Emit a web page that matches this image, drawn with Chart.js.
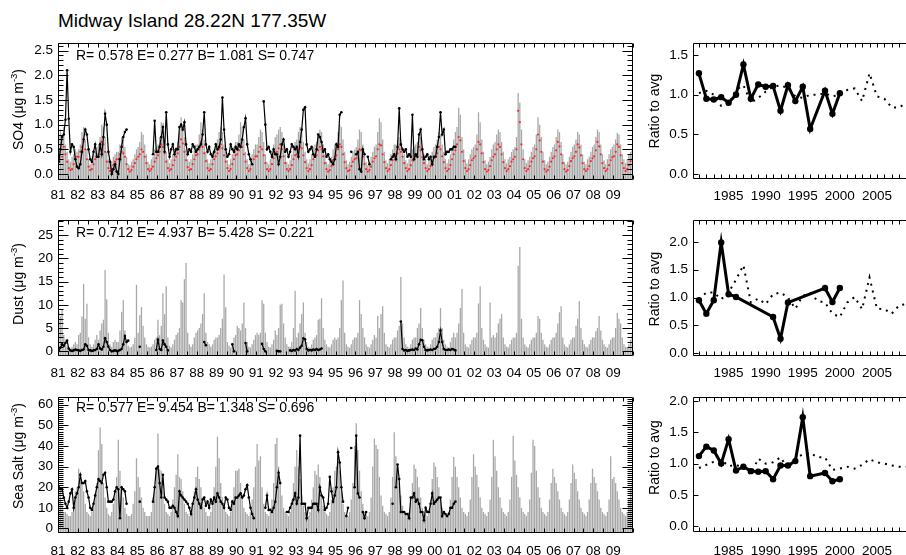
<!DOCTYPE html>
<html><head><meta charset="utf-8">
<script src="https://cdn.jsdelivr.net/npm/chart.js@4/dist/chart.umd.min.js"></script>
<style>
html,body{margin:0;padding:0;background:#fff;overflow:hidden;width:906px;height:555px;}
#title{position:absolute;left:58px;top:11px;font:19px "Liberation Sans",Arial,Helvetica,sans-serif;line-height:19px;color:#000;white-space:nowrap;}
canvas{position:absolute;}
</style></head><body>
<div id="title">Midway Island 28.22N 177.35W</div>
<canvas id="L1" width="640" height="174" style="left:0;top:30px"></canvas>
<canvas id="L2" width="640" height="173" style="left:0;top:207px"></canvas>
<canvas id="L3" width="640" height="173" style="left:0;top:384px"></canvas>
<canvas id="R1" width="285" height="173" style="left:633px;top:30px"></canvas>
<canvas id="R2" width="285" height="173" style="left:633px;top:207px"></canvas>
<canvas id="R3" width="285" height="172" style="left:633px;top:384px"></canvas>
<script>
const _ = null;
// ---------- axis tick values / labels ----------
const xTickYears  = [1981,1982,1983,1984,1985,1986,1987,1988,1989,1990,1991,1992,1993,1994,1995,1996,1997,1998,1999,2000,2001,2002,2003,2004,2005,2006,2007,2008,2009];
const xTickLabels = ['81','82','83','84','85','86','87','88','89','90','91','92','93','94','95','96','97','98','99','00','01','02','03','04','05','06','07','08','09'];
const so4YTicks  = [0,0.5,1.0,1.5,2.0,2.5];
const dustYTicks = [0,5,10,15,20,25];
const saltYTicks = [0,10,20,30,40,50,60];
const ratioYTicksA = [0,0.5,1.0,1.5];
const ratioYTicksB = [0,0.5,1.0,1.5,2.0];
const ratioXTicks  = [1985,1990,1995,2000,2005];
const ratioXLabels = ['1985','1990','1995','2000','2005'];
const ratioYears = [1981,1982,1983,1984,1985,1986,1987,1988,1989,1990,1991,1992,1993,1994,1995,1996,1997,1998,1999,2000,2001,2002,2003,2004,2005,2006,2007,2008,2009];

const so4Stats  = 'R= 0.578 E= 0.277 B= 1.081 S= 0.747';
const dustStats = 'R= 0.712 E= 4.937 B= 5.428 S= 0.221';
const saltStats = 'R= 0.577 E= 9.454 B= 1.348 S= 0.696';

// ---------- monthly model values (bars), Jan..Dec per year 1981-2009 ----------
const so4Model = [
[0.8,0.9,0.7,0.95,0.6,0.45,0.3,0.25,0.35,0.4,0.5,0.45],
[0.5,0.6,0.85,0.95,0.7,0.5,0.3,0.2,0.3,0.4,0.45,0.55],
[0.6,0.75,1.0,0.95,0.75,0.45,0.3,0.2,0.25,0.35,0.4,0.45],
[0.45,0.6,0.75,0.7,0.55,0.35,0.2,0.18,0.25,0.3,0.4,0.5],
[0.55,0.65,0.85,0.8,0.6,0.4,0.25,0.2,0.3,0.35,0.5,0.55],
[0.6,0.75,1.05,0.95,0.7,0.45,0.3,0.22,0.3,0.4,0.5,0.55],
[0.65,0.85,1.15,1.0,0.75,0.5,0.3,0.25,0.3,0.4,0.55,0.6],
[0.6,0.8,1.05,0.9,0.7,0.45,0.3,0.22,0.3,0.45,0.5,0.6],
[0.7,0.85,0.95,0.85,0.6,0.45,0.28,0.2,0.3,0.4,0.55,0.65],
[0.65,0.8,1.05,0.95,0.7,0.45,0.3,0.2,0.3,0.4,0.5,0.6],
[0.6,0.75,0.9,0.85,0.65,0.4,0.25,0.2,0.3,0.4,0.6,0.75],
[0.8,0.9,0.95,0.85,0.6,0.4,0.25,0.2,0.28,0.4,0.55,0.65],
[0.7,0.85,0.95,0.9,0.65,0.45,0.3,0.22,0.3,0.4,0.55,0.6],
[0.65,0.8,0.9,0.85,0.6,0.4,0.25,0.2,0.3,0.35,0.5,0.6],
[0.65,0.85,1.0,0.95,0.7,0.45,0.28,0.2,0.25,0.35,0.45,0.5],
[0.55,0.7,0.9,0.85,0.6,0.4,0.25,0.18,0.25,0.35,0.45,0.55],
[0.6,0.85,1.13,1.05,0.7,0.45,0.28,0.22,0.3,0.4,0.5,0.6],
[0.6,0.7,0.75,0.7,0.55,0.4,0.28,0.22,0.3,0.4,0.5,0.55],
[0.6,0.65,0.8,0.75,0.55,0.4,0.3,0.2,0.28,0.35,0.45,0.55],
[0.6,0.7,0.85,0.8,0.6,0.45,0.3,0.22,0.3,0.4,0.55,0.7],
[0.85,0.95,1.34,1.2,0.75,0.5,0.3,0.22,0.3,0.4,0.5,0.55],
[0.6,0.8,1.25,1.05,0.7,0.45,0.28,0.2,0.25,0.35,0.5,0.6],
[0.65,0.8,0.9,0.85,0.65,0.45,0.3,0.22,0.3,0.35,0.45,0.5],
[0.55,0.75,1.64,1.45,0.9,0.5,0.3,0.22,0.28,0.35,0.45,0.55],
[0.6,0.8,1.15,1.0,0.75,0.45,0.28,0.2,0.25,0.35,0.45,0.55],
[0.6,0.75,0.9,0.85,0.65,0.4,0.25,0.2,0.25,0.35,0.45,0.55],
[0.6,0.7,0.85,0.8,0.6,0.4,0.25,0.2,0.3,0.35,0.45,0.55],
[0.6,0.75,0.9,0.85,0.6,0.4,0.28,0.2,0.3,0.4,0.5,0.55],
[0.6,0.7,0.83,0.8,0.6,0.4,0.3,0.22,0.3,0.4,0.45,0.5]
].flat();

const so4Red = [
[0.45,0.5,0.35,0.55,0.4,0.25,0.12,0.08,0.1,0.2,0.3,0.35],
[0.35,0.45,0.55,0.65,0.5,0.3,0.15,0.08,0.1,0.2,0.3,0.35],
[0.4,0.5,0.65,0.6,0.45,0.25,0.12,0.06,0.1,0.18,0.25,0.3],
[0.3,0.4,0.45,0.42,0.35,0.2,0.1,0.05,0.08,0.15,0.22,0.3],
[0.35,0.4,0.5,0.45,0.35,0.22,0.1,0.06,0.1,0.15,0.25,0.32],
[0.38,0.45,0.6,0.55,0.42,0.25,0.12,0.07,0.1,0.18,0.28,0.35],
[0.42,0.55,0.7,0.62,0.45,0.28,0.14,0.08,0.1,0.2,0.3,0.38],
[0.4,0.5,0.65,0.55,0.42,0.26,0.12,0.07,0.1,0.2,0.3,0.36],
[0.42,0.5,0.6,0.52,0.38,0.25,0.12,0.06,0.1,0.2,0.3,0.38],
[0.4,0.48,0.55,0.55,0.4,0.25,0.12,0.06,0.1,0.2,0.3,0.36],
[0.36,0.45,0.55,0.5,0.38,0.22,0.1,0.06,0.1,0.2,0.32,0.42],
[0.45,0.52,0.6,0.5,0.36,0.22,0.1,0.06,0.1,0.18,0.3,0.38],
[0.4,0.5,0.55,0.52,0.38,0.24,0.12,0.06,0.1,0.18,0.3,0.35],
[0.38,0.48,0.55,0.5,0.36,0.22,0.1,0.05,0.08,0.16,0.28,0.35],
[0.38,0.5,0.6,0.55,0.4,0.24,0.12,0.06,0.08,0.16,0.25,0.3],
[0.32,0.42,0.5,0.48,0.35,0.2,0.1,0.05,0.08,0.15,0.25,0.32],
[0.36,0.5,0.6,0.58,0.4,0.24,0.12,0.06,0.1,0.18,0.28,0.35],
[0.36,0.42,0.5,0.45,0.35,0.22,0.12,0.06,0.1,0.18,0.28,0.32],
[0.36,0.4,0.55,0.48,0.34,0.22,0.12,0.06,0.1,0.16,0.25,0.32],
[0.36,0.42,0.55,0.5,0.36,0.24,0.12,0.06,0.1,0.18,0.3,0.4],
[0.48,0.6,0.75,0.68,0.45,0.26,0.12,0.06,0.1,0.18,0.28,0.32],
[0.36,0.5,0.65,0.6,0.42,0.24,0.1,0.05,0.08,0.16,0.28,0.35],
[0.4,0.5,0.6,0.55,0.4,0.24,0.12,0.06,0.1,0.16,0.25,0.3],
[0.35,0.5,1.28,1.05,0.6,0.3,0.12,0.06,0.1,0.16,0.25,0.32],
[0.36,0.5,0.8,0.68,0.45,0.25,0.1,0.05,0.08,0.15,0.25,0.32],
[0.36,0.48,0.65,0.56,0.4,0.22,0.1,0.05,0.08,0.16,0.26,0.32],
[0.36,0.45,0.6,0.54,0.38,0.22,0.1,0.06,0.1,0.16,0.26,0.32],
[0.36,0.48,0.65,0.56,0.4,0.22,0.12,0.06,0.1,0.18,0.28,0.34],
[0.36,0.45,0.6,0.55,0.38,0.22,0.12,0.06,0.1,0.18,0.26,0.3]
].flat();

const so4Obs = [
[0.25,0.5,0.75,0.8,1.1,2.1,1.12,0.45,0.6,0.55,0.3,0.15],
[0.12,0.2,0.45,0.7,0.9,0.8,0.5,0.3,0.25,0.45,0.6,0.35],
[0.35,0.6,0.4,0.75,1.22,1.0,0.45,0.25,0.0,0.1,0.2,0.05],
[0.0,0.3,0.55,0.75,0.85,0.9,_,_,_,_,_,_],
[_,_,_,_,_,_,_,_,_,0.4,1.08,0.45],
[0.45,0.55,0.75,0.95,0.45,1.25,0.6,0.35,0.5,0.6,0.4,0.5],
[0.5,0.95,1.0,0.9,1.05,0.6,0.4,0.5,0.45,0.6,0.55,0.45],
[0.5,0.55,0.6,0.8,1.25,0.6,0.45,0.55,0.4,0.35,0.45,0.6],
[0.5,0.55,0.7,1.55,0.9,0.5,0.35,0.4,0.6,0.5,0.45,0.55],
[0.5,0.6,0.55,0.7,0.95,1.13,0.6,0.4,0.3,0.2,_,_],
[_,_,_,_,1.47,1.0,0.5,0.55,0.45,0.35,0.5,0.4],
[0.4,0.2,0.35,0.6,0.7,0.45,0.5,0.35,0.45,0.6,0.55,0.5],
[0.55,0.35,0.65,0.9,1.3,1.35,0.6,0.45,0.5,0.55,0.4,0.35],
[0.5,0.8,0.75,0.65,0.45,0.5,0.35,0.4,0.3,0.25,0.2,0.3],
[0.6,0.55,1.2,1.25,_,_,_,_,_,0.45,_,_],
[0.4,0.45,0.1,0.05,0.5,0.4,_,0.35,0.2,_,_,_],
[_,_,_,_,_,_,_,_,_,0.3,0.35,0.4],
[0.3,0.55,1.33,0.6,0.5,0.45,0.5,0.35,0.4,0.35,1.2,0.3],
[0.4,0.35,0.8,0.9,0.5,0.3,0.35,0.4,0.3,0.35,0.2,0.35],
[0.35,0.55,0.75,1.25,0.8,0.9,0.4,0.45,0.45,0.5,0.5,0.55],
[0.55]
].flat();

const dustModel = [
[8.6,7.5,9.0,3.5,2.5,1.2,0.8,0.6,1.0,1.5,2.0,1.5],
[3.5,4,7.5,14.5,7,10.2,3,1.5,1,1.5,2.5,3.5],
[2.5,4.5,6,6.8,17.5,11.2,4,1.5,1,2,2.5,2],
[2,4.5,8.5,11,4.5,2,1.2,0.8,1,1.5,3,14.3],
[4,7.8,9.5,5.5,3,1.5,1,0.8,1,1.5,2.5,3],
[6.8,3.5,5.5,12.5,8,14,3,1.2,0.8,1.5,2.5,3.5],
[4,5,11,10.5,15.5,19,4,1.5,1,1.5,3,4],
[4.5,5,6,8,12.5,4,2,1.5,1,1.5,2.5,3],
[3,3.5,5,7,16.5,9.5,2,1.2,0.8,1.5,3,3.5],
[5.5,5,4.5,6,10.5,5,2,1,0.8,1.5,2.5,3.5],
[4,3.5,4,11,10.2,4,2,1,0.8,1.5,2.5,4.5],
[3.5,5,10,10.2,6,3,1.5,1,1,2,5,13],
[3,4,6,8,10.5,4,2,1,0.8,1.5,2.5,3],
[3.5,6.8,7,11.4,5,2.5,1.5,1,0.8,1.5,2.5,3],
[2.5,3,5,11,15.2,4,1.5,1,0.8,1.5,2.5,3],
[3,4,11,8,5,3,1.5,1,0.8,1.5,2.5,3.5],
[3,7.6,5,8,9.7,4,1.5,1,0.8,1.5,2.5,3],
[3,4.5,5.5,16,6,3,1.5,1,0.8,1.5,2.5,3],
[3,5,6,9.3,5,2.5,1.5,1,0.8,1.5,2.5,3],
[3,4,5,9.3,5,2.5,1.5,1,0.8,2,3,4],
[3,4,6,9.3,13.4,4,1.5,1,0.8,1.5,2.5,3],
[3,4,10.3,14,5,2.5,1.5,1,0.8,10.5,3,3.5],
[3,4,6,7,8,3,1.5,1,0.8,1.5,2.5,3],
[3,4,18.4,22.4,7,3,1.5,1,0.8,1.5,2.5,3],
[3,4,7.6,7,4,2.5,1.5,1,0.8,1.5,2.5,3],
[3,4,6,8.4,9.7,3,1.5,1,0.8,1.5,2.5,3],
[3,5.5,7,10.8,5,2.5,1.5,1,0.8,1.5,2.5,3],
[3,4.3,5,7.6,4.5,2.5,1.5,1,0.8,1.5,2.5,3],
[3,5,8.3,7,6,3,1.5,1,0.8,1.5,2.5,3.5]
].flat();

const dustObs = [
[0.3,0.8,1.5,1.2,1.8,2.3,0.6,0.2,0.1,0.2,0.4,0.3],
[0.2,0.1,0.3,0.4,1.5,1.2,0.3,0.2,0.1,0.2,0.3,0.5],
[1.5,0.6,0.4,1.0,2.8,2.0,1.0,0.3,0.0,0.1,0.2,0.1],
[0.1,0.3,0.5,1.5,3.3,2.0,2.3,_,_,_,_,_],
[_,1.0,_,_,_,_,_,_,_,_,_,0.3],
[2.5,0.5,0.3,2.3,1.5,1.0,0.2,_,_,_,_,_],
[_,_,_,_,_,_,_,_,_,_,_,_],
[_,_,_,_,2.0,1.3,_,_,_,_,_,_],
[_,_,_,_,_,_,_,_,_,1.5,0.0,_],
[_,_,_,_,_,1.8,0.0,_,_,_,_,_],
[_,_,_,1.6,0.5,0.0,_,_,_,_,_,_],
[0.1,0.0,0.0,_,_,_,_,_,0.2,0.1,0.3,0.2],
[0.5,0.3,0.8,1.2,2.8,2.6,0.5,0.2,0.3,0.2,0.4,0.3],
[0.5,0.3,0.4,0.6,_,_,_,_,_,_,_,_],
[_,_,_,_,_,_,_,_,_,_,_,_],
[_,_,_,_,_,_,_,_,_,_,_,_],
[_,_,_,_,_,_,_,_,_,_,_,_],
[_,_,_,6.4,0.5,0.2,0.3,0.1,0.2,0.3,0.4,0.3],
[0.6,0.4,1.5,2.5,2.4,1.0,0.3,0.2,0.3,0.4,0.3,0.5],
[0.6,1.0,2.0,4.5,2.0,0.5,0.3,0.3,0.4,0.3,0.5,0.4],
[0.2]
].flat();

const saltModel = [
[20,18,12,8,8,7,6,6,8,12,18,20],
[29,27,22,18,12,8,7,6,8,12,17,22],
[38,49,41,22,15,10,7,6,8,12,18,25],
[43,28,20,15,10,7,6,6,7,12,18,34],
[25,20,15,10,8,6,6,6,8,15,20,28],
[46,29,28,18,12,8,7,6,8,14,20,26],
[36,25,24,18,12,8,7,6,8,12,18,25],
[30,24,20,15,10,8,6,6,8,14,20,30],
[44.5,34,22,15,10,8,7,6,8,14,20,28],
[28,29,22,16,10,8,7,6,8,14,20,30],
[41,33,35,20,12,8,7,6,8,14,22,41],
[44,30,22,16,10,8,7,6,8,14,22,30],
[38,30,24,16,11,8,7,6,8,14,20,28],
[26,31,25,16,11,8,7,6,8,14,20,28],
[30,37,28,18,12,8,7,6,8,14,22,40],
[51,38,28,18,12,8,7,6,8,15,30,43.6],
[40.5,38.5,25,16,11,8,7,6,8,15,25,46.7],
[35,30,22,16,11,8,7,6,8,14,22,31],
[29,25,20,15,10,8,7,6,8,14,24,32],
[30,25,20,15,10,8,7,6,8,14,25,34.7],
[30,25,20,15,10,8,7,6,8,14,25,36],
[30,26,20,15,10,8,7,6,8,14,25,43],
[35,28,20,15,10,8,7,6,8,14,25,45],
[33,26,20,15,10,8,7,6,8,14,27,43],
[40,28,20,15,10,8,7,6,8,14,22,29],
[25,22,18,14,10,8,7,6,8,14,22,31],
[27,24,18,14,10,8,7,6,8,14,22,29],
[25,22,18,14,10,8,7,6,8,14,35,24],
[25,22,18,14,10,8,7,6,8,14,20,22]
].flat();

const saltObs = [
[20,19,19,15,12,10,13,17,19,10,15,17],
[20,26,22,22,23,18,15,10,9,12,16,20],
[24,23,22,26,27,20,13,13,13,14,18,20],
[19,5,20,19,18,12,_,_,_,_,_,_],
[_,13,_,_,_,_,_,_,_,13,20,29],
[30,22,15,26,15,14,13,10,10,11,10,8],
[6,18,16,15,14,13,12,10,7,12,15,19],
[14,12,10,14,15,11,13,10,14,12,15,13],
[17,15,13,12,10,15,14,10,9,13,12,15],
[15,16,17,15,16,19,21,15,10,7,5,_],
[_,_,_,_,_,10,16,9,9,8,10,13],
[20,27,22,_,_,_,8,8,10,12,14,17],
[12,15,45,12,12,12,5,10,10,10,12,12],
[12,9,20,16,15,9,10,12,25,18,13,16],
[20,37,32,20,13,_,6,10,_,39,_,20],
[45,17,15,_,8,5,8,_,_,_,_,_],
[_,_,_,_,_,_,_,_,_,_,12,_],
[20,31,24,8,8,8,7,7,5,15,15,17],
[13,14,12,8,8,4,10,8,8,12,17,12],
[13,14,15,15,6,8,7,6,7,10,10,12],
[13]
].flat();

// ---------- annual ratio to average, 1981-2009 ----------
const so4RatioObs   = [1.27,0.95,0.94,0.97,0.90,1.00,1.38,0.95,1.13,1.10,1.11,0.80,1.12,0.92,1.10,0.57,_,1.05,0.76,1.02,_,_,_,_,_,_,_,_,_];
const so4RatioModel = [1.02,1.05,1.00,0.86,0.88,1.06,1.12,0.90,0.96,1.04,1.10,1.12,1.08,0.98,0.96,1.00,1.00,1.02,0.98,1.00,1.06,1.08,0.92,1.27,0.98,0.95,0.84,0.84,0.90];
const dustRatioObs   = [0.95,0.71,0.95,1.99,1.06,1.01,_,_,_,_,0.65,0.26,0.91,_,_,_,_,1.17,0.92,1.17,_,_,_,_,_,_,_,_,_];
const dustRatioModel = [0.97,1.09,1.09,0.97,1.09,1.32,1.58,0.91,0.98,0.88,1.06,1.09,1.00,0.80,1.03,1.08,0.94,0.91,0.71,0.65,0.91,1.01,0.79,1.36,0.80,0.79,0.71,0.86,0.88];
const saltRatioObs   = [1.12,1.27,1.21,1.00,1.39,0.89,0.95,0.88,0.87,0.88,0.75,0.97,0.97,1.04,1.74,0.80,_,0.85,0.72,0.75,_,_,_,_,_,_,_,_,_];
const saltRatioModel = [0.93,0.98,1.03,1.06,0.96,0.98,0.93,0.83,1.08,1.00,1.02,1.10,0.92,1.08,1.15,1.17,1.10,1.10,0.90,0.92,0.95,0.92,0.98,1.07,1.02,1.00,0.97,0.95,0.95];

// ---------- helpers ----------
const FONT = '"Liberation Sans", Arial, Helvetica, sans-serif';
Chart.defaults.font.family = FONT;
Chart.defaults.color = '#000';
const monthX = i => 1981 + (i + 0.5) / 12;
const pts = arr => arr.map((v, i) => ({x: monthX(i), y: v}));
const yrPts = arr => arr.map((v, i) => ({x: ratioYears[i], y: v}));
function range(a, b, s) { const r = []; for (let v = a; v <= b + 1e-9; v += s) r.push(+v.toFixed(4)); return r; }

const idlAxes = {
  id: 'idlAxes',
  afterDraw(chart, args, o) {
    const {ctx, chartArea: a, scales} = chart;
    const sx = scales.x, sy = scales.y;
    ctx.save();
    ctx.strokeStyle = '#000';
    ctx.lineWidth = 1;
    const L = Math.round(a.left) + 0.5, R = Math.round(a.right) - 0.5, T = Math.round(a.top) + 0.5, B = Math.round(a.bottom) - 0.5;
    ctx.beginPath();
    ctx.rect(L, T, R - L, B - T);
    for (const t of o.xt) {
      const p = Math.round(sx.getPixelForValue(t[0])) + 0.5;
      ctx.moveTo(p, B); ctx.lineTo(p, B - t[1]);
      ctx.moveTo(p, T); ctx.lineTo(p, T + t[1]);
    }
    for (const t of o.yt) {
      const p = Math.round(sy.getPixelForValue(t[0])) + 0.5;
      ctx.moveTo(L, p); ctx.lineTo(L + t[1], p);
      ctx.moveTo(R, p); ctx.lineTo(R - t[1], p);
    }
    ctx.stroke();
    // statistics text
    if (o.stats) {
      ctx.fillStyle = '#000';
      ctx.font = '14px ' + FONT;
      ctx.textBaseline = 'middle';
      ctx.textAlign = 'left';
      ctx.fillText(o.stats, a.left + 18, a.top + o.statsDy);
    }
    // rotated y title with superscript
    const parts = o.title;
    const big = '14px ' + FONT, small = '9.5px ' + FONT;
    ctx.font = big; const w0 = ctx.measureText(parts[0]).width;
    const w2 = parts[2] ? ctx.measureText(parts[2]).width : 0;
    ctx.font = small; const w1 = parts[1] ? ctx.measureText(parts[1]).width : 0;
    const tot = w0 + w1 + w2;
    ctx.translate(o.tx, (a.top + a.bottom) / 2 + o.tdy);
    ctx.rotate(-Math.PI / 2);
    ctx.fillStyle = '#000';
    ctx.textBaseline = 'middle';
    ctx.textAlign = 'left';
    let x0 = -tot / 2;
    ctx.font = big; ctx.fillText(parts[0], x0, 0); x0 += w0;
    if (parts[1]) { ctx.font = small; ctx.fillText(parts[1], x0, -5); x0 += w1; }
    if (parts[2]) { ctx.font = big; ctx.fillText(parts[2], x0, 0); }
    ctx.restore();
  }
};

function leftPanel(id, o) {
  const ds = [
    {type: 'line', data: pts(o.obs), borderColor: '#000', borderWidth: 1.2, pointRadius: 1.3,
     pointBackgroundColor: '#000', pointBorderWidth: 0, spanGaps: false, order: 0}
  ];
  if (o.red) ds.push({type: 'line', data: pts(o.red), showLine: false, pointRadius: 1.1,
     pointBackgroundColor: '#ff2a2a', pointBorderWidth: 0, order: 1});
  ds.push({type: 'bar', data: pts(o.model), backgroundColor: '#a8a8a8', borderWidth: 0,
     barPercentage: 0.78, categoryPercentage: 1, base: o.ymin, order: 2});
  const xt = range(1981, 2010, 0.5).map(v => [v, 4]);
  const yt = range(o.yticks[0], o.ymax, o.minor).map(v => [v, 5])
    .concat(o.yticks.map(v => [v, 10]));
  return new Chart(document.getElementById(id), {
    type: 'bar',
    data: {datasets: ds},
    options: {
      responsive: false, animation: false, events: [],
      layout: {padding: {top: 8, right: 7, left: 0, bottom: 0}},
      plugins: {legend: {display: false}, tooltip: {enabled: false},
        idlAxes: {xt, yt, stats: o.stats, statsDy: o.statsDy, title: o.title, tx: 19, tdy: o.tdy}},
      scales: {
        x: {type: 'linear', min: 1981, max: 2010, offset: false,
            grid: {display: false, drawTicks: false}, border: {display: false},
            ticks: {padding: o.xpad, autoSkip: false, maxRotation: 0, font: {size: 13.5},
                    callback: v => xTickLabels[xTickYears.indexOf(v)]},
            afterBuildTicks: s => { s.ticks = xTickYears.map(v => ({value: v})); },
            afterFit: s => { s.height = 24; }},
        y: {type: 'linear', min: o.ymin, max: o.ymax,
            grid: {display: false, drawTicks: false}, border: {display: false},
            ticks: {padding: 5, font: {size: 13.5}, callback: v => v.toFixed(o.dec)},
            afterBuildTicks: s => { s.ticks = o.yticks.map(v => ({value: v})); },
            afterFit: s => { s.width = 58; }}
      }
    },
    plugins: [idlAxes]
  });
}

function rightPanel(id, o) {
  const yt = o.yticks.map(v => [v, 5]);
  const xt = ratioYears.map(v => [v, 4]);
  return new Chart(document.getElementById(id), {
    type: 'line',
    data: {datasets: [
      {data: yrPts(o.obs), borderColor: '#000', borderWidth: 3, spanGaps: true,
       segment: {borderWidth: c => (c.p1DataIndex - c.p0DataIndex > 1 ? 1 : 3)},
       pointRadius: 3.2, pointBackgroundColor: '#000', pointBorderWidth: 0, order: 0},
      {data: yrPts(o.model), borderColor: '#000', borderWidth: 2, borderDash: [2, 5],
       pointRadius: 0, order: 1}
    ]},
    options: {
      responsive: false, animation: false, events: [],
      layout: {padding: {top: 8, right: 0, left: 0, bottom: 0}},
      plugins: {legend: {display: false}, tooltip: {enabled: false},
        idlAxes: {xt, yt, title: ['Ratio to avg'], tx: 22, tdy: o.tdy}},
      scales: {
        x: {type: 'linear', min: 1980.2, max: 2010,
            grid: {display: false, drawTicks: false}, border: {display: false},
            ticks: {padding: o.xpad, autoSkip: false, maxRotation: 0, font: {size: 13.5},
                    callback: v => ratioXLabels[ratioXTicks.indexOf(v)]},
            afterBuildTicks: s => { s.ticks = ratioXTicks.map(v => ({value: v})); },
            afterFit: s => { s.height = 24; }},
        y: {type: 'linear', min: o.ymin, max: o.ymax,
            grid: {display: false, drawTicks: false}, border: {display: false},
            ticks: {padding: 5, font: {size: 13.5}, callback: v => v.toFixed(1)},
            afterBuildTicks: s => { s.ticks = o.yticks.map(v => ({value: v})); },
            afterFit: s => { s.width = 60; }}
      }
    },
    plugins: [idlAxes]
  });
}

leftPanel('L1', {obs: so4Obs, red: so4Red, model: so4Model, ymin: -0.12, ymax: 2.65, yticks: so4YTicks, minor: 0.1, dec: 1,
  stats: so4Stats, statsDy: 13, title: ['SO4 (\u03bcg m', '-3', ')'], tdy: -2, xpad: 7});
leftPanel('L2', {obs: dustObs, model: dustModel, ymin: -1, ymax: 28.2, yticks: dustYTicks, minor: 1, dec: 0,
  stats: dustStats, statsDy: 13, title: ['Dust (\u03bcg m', '-3', ')'], tdy: -4, xpad: 9});
leftPanel('L3', {obs: saltObs, model: saltModel, ymin: -2.2, ymax: 63.7, yticks: saltYTicks, minor: 1, dec: 0,
  stats: saltStats, statsDy: 11, title: ['Sea Salt (\u03bcg m', '-3', ')'], tdy: -9, xpad: 10});

rightPanel('R1', {obs: so4RatioObs, model: so4RatioModel, ymin: -0.06, ymax: 1.65, yticks: ratioYTicksA, tdy: 0, xpad: 9});
rightPanel('R2', {obs: dustRatioObs, model: dustRatioModel, ymin: -0.05, ymax: 2.39, yticks: ratioYTicksB, tdy: 1, xpad: 9});
rightPanel('R3', {obs: saltRatioObs, model: saltRatioModel, ymin: -0.09, ymax: 2.06, yticks: ratioYTicksB, tdy: -7, xpad: 11});
</script>
</body></html>
